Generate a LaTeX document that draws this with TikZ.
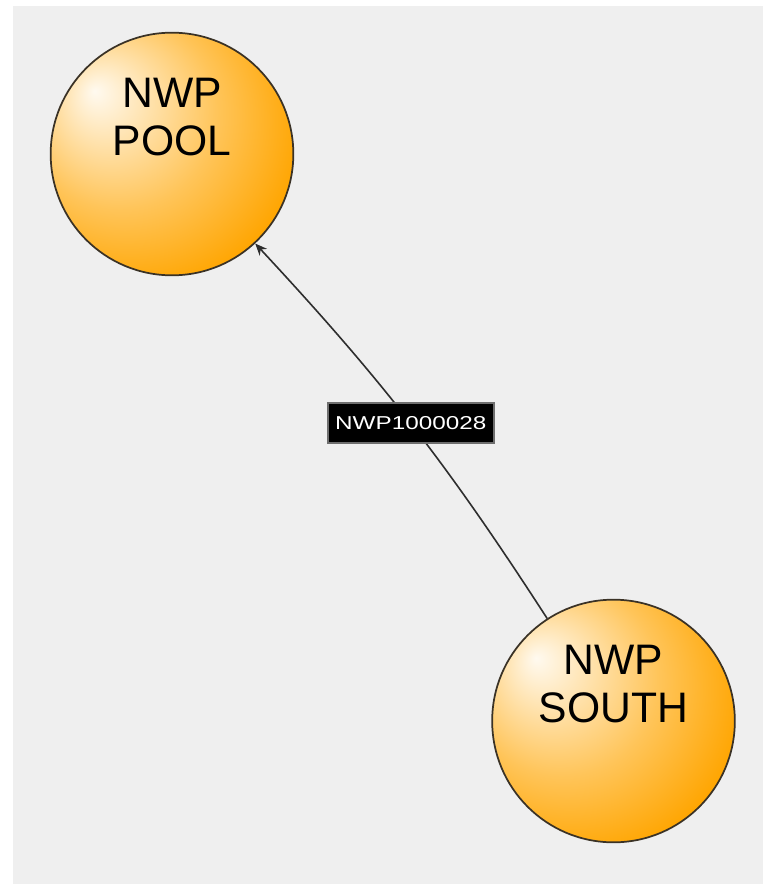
\documentclass[tikz,border=0pt]{standalone}
\usepackage{fontspec}
\setmainfont{Liberation Sans}
\newfontfamily\etichettafont[FakeStretch=1.3]{Liberation Sans}
\usetikzlibrary{arrows.meta}
\definecolor{sfondo}{HTML}{EFEFEF}
\definecolor{arancio}{HTML}{FFA500}
\definecolor{bordo}{HTML}{3A3226}
\definecolor{bordoetichetta}{HTML}{6E6E6E}
\definecolor{linea}{HTML}{2E2E2E}
\pgfdeclareradialshading{sfera}{\pgfpoint{-16bp}{13bp}}{color(0bp)=(arancio!6!white); color(20bp)=(arancio!65!white); color(34bp)=(arancio); color(60bp)=(arancio)}

\begin{document}
\begin{tikzpicture}[x=0.75pt, y=-0.75pt,
    stazione/.style={circle, draw=bordo, line width=1.3pt, shading=sfera, minimum size=182pt, inner sep=0pt},
    testo/.style={font=\fontsize{32}{36}\selectfont, align=center, text=black},
    etichetta/.style={fill=black, draw=bordoetichetta, line width=1.5pt, text=white, font=\etichettafont\fontsize{14}{16}\selectfont, minimum width=124.5pt, minimum height=30pt, inner sep=0pt},
    freccia/.style={draw=linea, line width=1.2pt, -{Stealth[length=9pt, width=7.5pt]}}]

    % Sfondo
    \useasboundingbox (0,0) rectangle (763,884);
    \fill[sfondo] (13,6) rectangle (763,884);

    % Nodi
    \node[stazione] (pool) at (172,154) {};
    \node[testo] (pooltesto) at ([yshift=27.75pt]pool.center) {NWP\\POOL};
    \node[stazione] (south) at (613.5,721) {};
    \node[testo] (southtesto) at ([yshift=27.75pt]south.center) {NWP\\SOUTH};

    % Collegamento
    \draw[freccia] (south) to[bend right=5] node[etichetta] (codice) {NWP1000028} (pool);
\end{tikzpicture}
\end{document}
